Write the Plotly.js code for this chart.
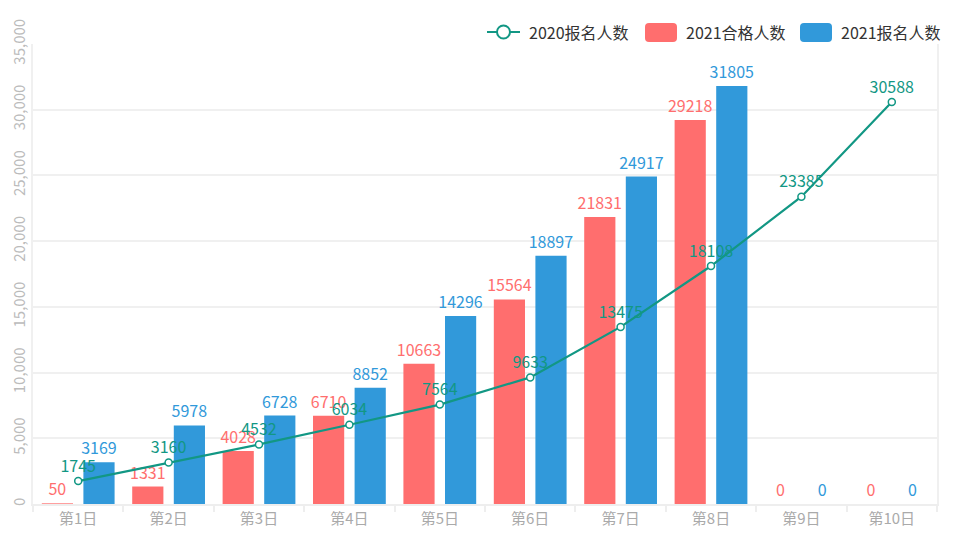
<!DOCTYPE html>
<html><head><meta charset="utf-8">
<script src="https://cdn.plot.ly/plotly-3.0.1.min.js"></script>
<style>html,body{margin:0;padding:0;background:#fff}#c{width:955px;height:546px}</style>
</head><body><div id="c"></div>
<script>
const categories = ['第1日','第2日','第3日','第4日','第5日','第6日','第7日','第8日','第9日','第10日'];
const reg2020 = [1745, 3160, 4532, 6034, 7564, 9633, 13475, 18108, 23385, 30588];
const pass2021 = [50, 1331, 4028, 6710, 10663, 15564, 21831, 29218, 0, 0];
const reg2021 = [3169, 5978, 6728, 8852, 14296, 18897, 24917, 31805, 0, 0];
const yTicks = [0, 5000, 10000, 15000, 20000, 25000, 30000, 35000];
const seriesNames = ['2020报名人数', '2021合格人数', '2021报名人数'];

const font = "'Microsoft YaHei','Noto Sans CJK SC','Noto Sans',sans-serif";
const red = '#ff6e6e', blue = '#3199da', teal = '#129784';

const W = 955, H = 546, M = {l:33, r:18, t:44, b:42};
const pw = W - M.l - M.r, ph = H - M.t - M.b;
const px = x => (x - M.l) / pw;          // pixel -> paper x
const py = y => (H - M.b - y) / ph;      // pixel -> paper y

const traces = [
  {type:'scatter', mode:'lines+markers+text', name:seriesNames[0], x:categories, y:reg2020,
   line:{color:teal, width:2.2}, marker:{symbol:'circle', size:7, color:'#fff', line:{color:teal, width:1.5}},
   text:reg2020.map(String), textposition:'top center', cliponaxis:false,
   textfont:{color:teal, size:16, family:font}},
  {type:'bar', name:seriesNames[1], x:categories, y:pass2021, marker:{color:red},
   text:pass2021.map(String), textposition:'outside', cliponaxis:false, constraintext:'none',
   textfont:{color:red, size:16, family:font}},
  {type:'bar', name:seriesNames[2], x:categories, y:reg2021, marker:{color:blue},
   text:reg2021.map(String), textposition:'outside', cliponaxis:false, constraintext:'none',
   textfont:{color:blue, size:16, family:font}}
];

function roundRect(x0, y0, x1, y1, r) {
  const X0 = px(x0), X1 = px(x1), Y0 = py(y0), Y1 = py(y1);
  const rx = r / pw, ry = r / ph;
  return `M${X0+rx},${Y0} L${X1-rx},${Y0} Q${X1},${Y0} ${X1},${Y0-ry} L${X1},${Y1+ry} Q${X1},${Y1} ${X1-rx},${Y1} L${X0+rx},${Y1} Q${X0},${Y1} ${X0},${Y1+ry} L${X0},${Y0-ry} Q${X0},${Y0} ${X0+rx},${Y0} Z`;
}

const ly = 32;
const shapes = [
  {type:'line', xref:'paper', yref:'paper', x0:px(487), x1:px(520), y0:py(ly), y1:py(ly), line:{color:teal, width:2}},
  {type:'circle', xref:'paper', yref:'paper', x0:px(497), x1:px(510), y0:py(ly-6.5), y1:py(ly+6.5), fillcolor:'#fff', line:{color:teal, width:2}},
  {type:'path', xref:'paper', yref:'paper', path:roundRect(645, 23, 677, 42, 4), fillcolor:red, line:{width:0}},
  {type:'path', xref:'paper', yref:'paper', path:roundRect(800, 23, 832, 42, 4), fillcolor:blue, line:{width:0}}
];
const legendX = [527, 684, 839];
const annotations = seriesNames.map((n, i) => ({
  xref:'paper', yref:'paper', x:px(legendX[i]), y:py(ly), xanchor:'left', yanchor:'middle',
  text:n, showarrow:false, font:{size:16, color:'#333', family:font}
}));

const layout = {
  width:W, height:H,
  margin:Object.assign({autoexpand:false}, M),
  paper_bgcolor:'#fff', plot_bgcolor:'#fff',
  font:{family:font},
  barmode:'group', bargap:0.08, bargroupgap:0.25,
  showlegend:false,
  shapes, annotations,
  xaxis:{type:'category', range:[-0.5, 9.5], showgrid:false, tickson:'boundaries', ticks:'outside', ticklen:6,
    tickcolor:'#eee', tickwidth:2, showline:true, linecolor:'#eee', linewidth:2,
    tickfont:{size:15, color:'#aaa', family:font}, zeroline:false},
  yaxis:{range:[0,35000], tickvals:yTicks, ticktext:yTicks.map(v=>v.toLocaleString('en-US')),
    tickangle:-90, tickfont:{size:15, color:'#bbb', family:font},
    showgrid:true, gridcolor:'#f0f0f0', gridwidth:2, zeroline:false,
    showline:true, mirror:true, linecolor:'#f0f0f0', linewidth:2, ticks:''}
};

Plotly.newPlot('c', traces, layout, {displayModeBar:false, staticPlot:true});
</script></body></html>
